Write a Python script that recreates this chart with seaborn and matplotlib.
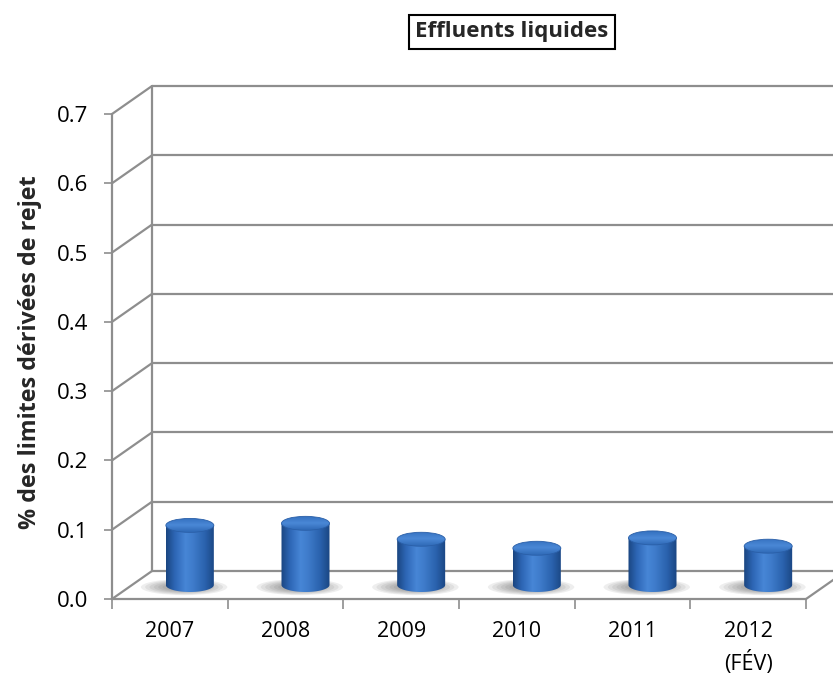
import numpy as np
import pandas as pd
import matplotlib
matplotlib.use("Agg")
import matplotlib.pyplot as plt
import seaborn as sns
from matplotlib.colors import LinearSegmentedColormap
from matplotlib.patches import Polygon, Ellipse

# ---- data ----
years = ["2007", "2008", "2009", "2010", "2011", "2012\n(FÉV)"]
values = [0.086, 0.089, 0.066, 0.053, 0.068, 0.056]
yticks = [0.0, 0.1, 0.2, 0.3, 0.4, 0.5, 0.6, 0.7]
title = "Effluents liquides"
ylabel = "% des limites dérivées de rejet"

sns.set_style("white")
plt.rcParams["font.family"] = ["Open Sans", "DejaVu Sans"]

W, H = 833, 676
fig = plt.figure(figsize=(W / 100, H / 100), dpi=100)
ax_l, ax_b, ax_w, ax_h = 112, 77, 694, 485
ax = fig.add_axes([ax_l / W, ax_b / H, ax_w / W, ax_h / H])
ax.set_xlim(-0.5, 5.5)
ax.set_ylim(0, 0.7)

sx = 6 / ax_w      # data per px in x
sy = 0.7 / ax_h    # data per px in y
DX, DY = 40 * sx, 28 * sy  # depth offset
grid_c = "#8e8e8e"
lw = 1.6

# ---- 3D frame ----
for v in yticks:
    ax.plot([-0.5 + DX, 5.5 + DX + 1], [v + DY, v + DY], color=grid_c, lw=lw,
            clip_on=False, zorder=1, solid_capstyle="butt")
    ax.plot([-0.5, -0.5 + DX], [v, v + DY], color=grid_c, lw=lw,
            clip_on=False, zorder=1)
ax.plot([-0.5 + DX, -0.5 + DX], [DY, 0.7 + DY], color=grid_c, lw=lw, clip_on=False, zorder=1)
ax.plot([-0.5, -0.5], [0, 0.7], color=grid_c, lw=lw, clip_on=False, zorder=1)
ax.plot([-0.5, 5.5], [0, 0], color=grid_c, lw=lw, clip_on=False, zorder=1)
ax.plot([5.5, 5.5 + DX], [0, DY], color=grid_c, lw=lw, clip_on=False, zorder=1)

# ---- bars ----
df = pd.DataFrame({"year": years, "value": values})
sns.barplot(data=df, x="year", y="value", width=0.415, color="#2e6bbd",
            ax=ax, zorder=3)

body_cmap = LinearSegmentedColormap.from_list(
    "cyl", [(0, "#1a4580"), (0.18, "#2d66b5"), (0.4, "#4786d6"),
            (0.55, "#3f7ccb"), (0.8, "#2a62ad"), (1, "#1a4582")])
cap_cmap = LinearSegmentedColormap.from_list(
    "cap", [(0, "#2f69b6"), (0.5, "#4a88d6"), (1, "#3470bf")])
grad = np.linspace(0, 1, 256).reshape(1, -1)
eh = 14 * sy
t = np.linspace(np.pi, 2 * np.pi, 60)

for p in list(ax.patches):
    x0 = p.get_x() + DX / 2
    w = p.get_width()
    h = p.get_height()
    y0 = DY / 2
    y1 = y0 + h
    xc = x0 + w / 2
    p.set_visible(False)
    # floor shadow (layered soft ellipses)
    for k in range(8):
        f = 1.0 - k * 0.1
        sh = Ellipse((xc - w * 0.12, y0 - eh * 0.15), w * 1.8 * f,
                     eh * 1.15 * f, facecolor="#4a4a4a", edgecolor="none",
                     alpha=0.09, zorder=2)
        ax.add_patch(sh)
    # body
    pts = [(x0, y1), (x0, y0)] + [(xc - (w / 2) * np.cos(tt - np.pi), y0 + (eh / 2) * np.sin(tt)) for tt in t] + [(x0 + w, y1)]
    body = Polygon(pts, closed=True, facecolor="none", edgecolor="none", zorder=3)
    ax.add_patch(body)
    im = ax.imshow(grad, cmap=body_cmap, extent=[x0, x0 + w, y0 - eh, y1],
                   aspect="auto", zorder=3, interpolation="bilinear")
    im.set_clip_path(body)
    # cap
    cap = Ellipse((xc, y1), w, eh, facecolor="none", edgecolor="#2a5fa8",
                  lw=0.6, zorder=5)
    ax.add_patch(cap)
    im2 = ax.imshow(grad.T[::-1], cmap=cap_cmap, extent=[x0, x0 + w, y1 - eh / 2, y1 + eh / 2],
                    aspect="auto", zorder=4, interpolation="bilinear")
    im2.set_clip_path(cap)

ax.set_xlim(-0.5, 5.5)
ax.set_ylim(0, 0.7)

# ---- axes styling ----
for s in ax.spines.values():
    s.set_visible(False)
ax.set_xlabel("")
ax.set_ylabel("")
ax.set_yticks(yticks)
ax.set_yticklabels([f"{v:.1f}" for v in yticks])
ax.tick_params(axis="y", left=True, length=6, width=1.2, color=grid_c,
               labelsize=16, pad=11, labelcolor="black")
ax.set_xticks(range(len(years)))
ax.set_xticklabels(years)
ax.set_xticks(np.arange(-0.5, 6, 1), minor=True)
ax.tick_params(axis="x", which="major", length=0, labelsize=15.5, pad=16,
               labelcolor="black")
ax.tick_params(axis="x", which="minor", bottom=True, length=7, width=1.2,
               color=grid_c)
for lab in ax.get_xticklabels():
    lab.set_linespacing(1.45)

fig.text(30 / W, 1 - 352 / H, ylabel, rotation=90, ha="center", va="center",
         fontsize=16.8, fontweight="bold")
fig.text(512 / W, 1 - 32 / H, title, ha="center", va="center", fontsize=16,
         fontweight="bold",
         bbox=dict(boxstyle="square,pad=0.3", facecolor="white",
                   edgecolor="black", linewidth=1.5))

fig.savefig("out.png", dpi=100)
